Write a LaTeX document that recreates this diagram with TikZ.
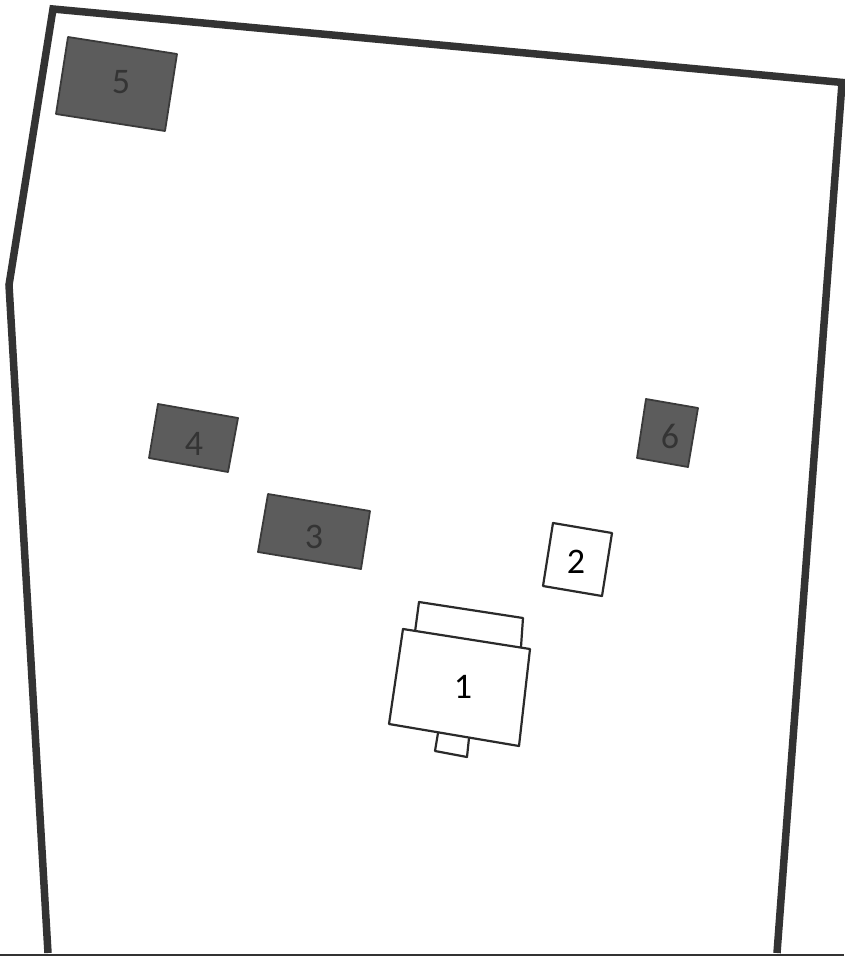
\documentclass[tikz,border=0pt]{standalone}
\usepackage{fontspec}
\setmainfont{Carlito}
\definecolor{wallc}{HTML}{333333}
\definecolor{darkb}{HTML}{5C5C5C}
\definecolor{edgeb}{HTML}{3A3A3A}
\definecolor{darkt}{HTML}{343434}
\definecolor{linec}{HTML}{2A2A2A}
\tikzset{
  wall/.style={draw=wallc,line width=7.5pt,line join=miter},
  groundline/.style={draw=wallc,line width=3pt},
  darkbox/.style={draw=edgeb,fill=darkb,line width=1.8pt,line join=round},
  lightbox/.style={draw=linec,fill=white,line width=2.2pt,line join=round},
  lightlab/.style={font=\fontsize{36}{36}\selectfont,text=black,inner sep=0pt},
  darklab/.style={font=\fontsize{36}{36}\selectfont,text=darkt,inner sep=0pt}
}
\begin{document}
\begin{tikzpicture}[x=1pt,y=-1pt]
\useasboundingbox (0,0) rectangle (844,956);
\fill[white] (0,0) rectangle (844,956);
% site boundary
\draw[wall] (48,953) -- (9,285) -- (53,9) -- (848,83);
\draw[wall] (842,83) -- (777,953);
\draw[groundline] (0,955) -- (844,955);
% dark buildings
\draw[darkbox] (68,37) -- (177,54) -- (165,131) -- (56,114) -- cycle;
\draw[darkbox] (158,404) -- (238,418) -- (228,472) -- (149,458) -- cycle;
\draw[darkbox] (268,494) -- (370,511) -- (361,569) -- (258,552) -- cycle;
\draw[darkbox] (646,399) -- (698,408) -- (688,467) -- (637,458) -- cycle;
% light buildings
\draw[lightbox] (553,523) -- (612,533) -- (602,596) -- (543,586) -- cycle;
\draw[lightbox] (415,632) -- (419,602) -- (523,618) -- (521,647);
\draw[lightbox] (438,733) -- (435,751) -- (467,757) -- (469,738);
\draw[lightbox] (403,629) -- (530,649) -- (519,746) -- (389,724) -- cycle;
% labels
\node[lightlab] (n1) at (463,687) {1};
\node[lightlab] (n2) at (576,562) {2};
\node[darklab] (n3) at (314,537) {3};
\node[darklab] (n4) at (194,444) {4};
\node[darklab] (n5) at (121,82) {5};
\node[darklab] (n6) at (670,436) {6};
\end{tikzpicture}
\end{document}
